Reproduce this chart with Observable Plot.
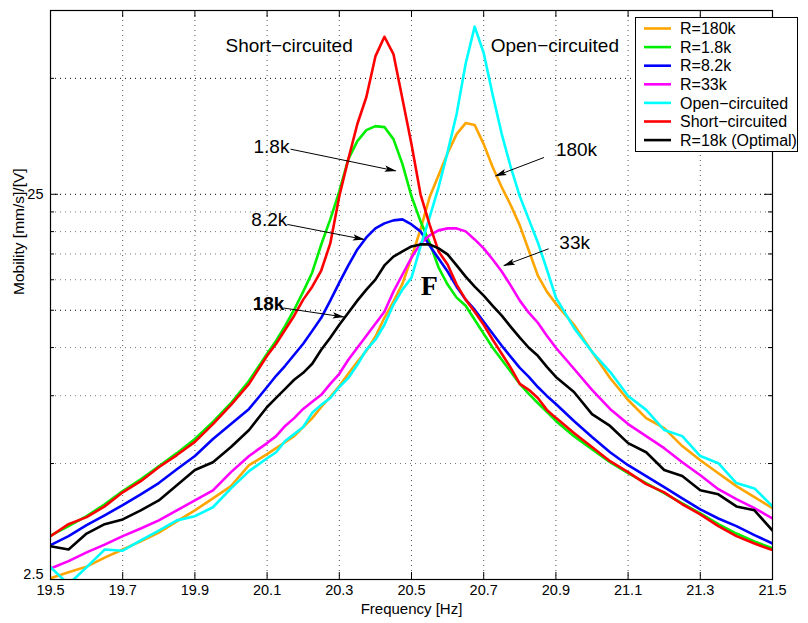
<!DOCTYPE html>
<html><head><meta charset="utf-8">
<script src="https://cdn.jsdelivr.net/npm/d3@7"></script>
<script src="https://cdn.jsdelivr.net/npm/@observablehq/plot@0.6"></script>
<style>
body{margin:0;background:#fff;}
#chart{position:relative;width:808px;height:623px;}
</style></head><body><div id="chart"></div>
<script>
const freq = [19.5,19.55,19.6,19.65,19.7,19.75,19.8,19.85,19.9,19.95,20.0,20.05,20.1,20.125,20.15,20.175,20.2,20.225,20.25,20.275,20.3,20.325,20.35,20.375,20.4,20.425,20.45,20.475,20.5,20.525,20.55,20.575,20.6,20.625,20.65,20.675,20.7,20.725,20.75,20.775,20.8,20.825,20.85,20.875,20.9,20.95,21.0,21.05,21.1,21.15,21.2,21.25,21.3,21.35,21.4,21.45,21.5];

const r180k = [2.52,2.61,2.70,2.85,2.99,3.14,3.31,3.54,3.78,4.06,4.37,4.95,5.29,5.48,5.68,5.89,6.22,6.56,7.01,7.45,7.95,8.55,9.19,9.81,10.67,11.95,13.16,14.65,17.13,20.27,24.55,28.01,31.96,35.83,38.27,37.82,33.74,29.39,26.07,23.41,20.76,17.87,15.37,13.97,13.00,11.46,9.75,8.34,7.31,6.56,6.18,5.55,5.10,4.72,4.37,4.09,3.83];
const r1_8k = [3.25,3.44,3.65,3.92,4.24,4.55,4.92,5.32,5.79,6.41,7.18,8.20,9.64,10.42,11.39,12.54,13.97,15.67,18.52,21.52,25.45,30.84,34.36,36.70,37.58,37.36,34.77,29.93,24.70,21.27,18.75,16.14,14.57,13.48,12.84,11.81,10.86,9.99,9.30,8.65,8.05,7.58,7.18,6.81,6.45,5.89,5.45,5.04,4.72,4.45,4.19,3.94,3.71,3.48,3.29,3.14,3.01];
const r8_2k = [3.07,3.24,3.46,3.67,3.90,4.16,4.45,4.83,5.23,5.79,6.33,6.93,7.90,8.45,8.97,9.58,10.23,11.05,11.95,13.24,14.74,16.34,17.98,19.32,20.39,21.01,21.39,21.52,20.88,20.03,18.42,17.03,15.76,14.39,13.32,12.54,11.67,10.86,10.11,9.46,8.86,8.39,7.90,7.49,7.14,6.45,5.86,5.35,4.95,4.64,4.34,4.06,3.80,3.60,3.44,3.26,3.10];
const r33k = [2.67,2.79,2.94,3.08,3.24,3.39,3.56,3.78,4.01,4.26,4.75,5.23,5.65,5.89,6.26,6.56,6.93,7.23,7.54,8.05,8.55,9.30,9.99,10.73,11.53,12.39,13.97,15.48,17.13,18.64,19.55,20.15,20.39,20.39,20.03,19.09,18.09,16.93,15.76,14.48,13.24,12.32,11.60,10.73,9.99,8.81,7.77,6.93,6.33,5.89,5.48,5.04,4.66,4.29,4.04,3.83,3.60];
const openC = [2.69,2.43,2.69,2.99,2.97,3.16,3.35,3.56,3.65,3.85,4.31,4.78,5.16,5.35,5.72,5.96,6.22,6.77,7.10,7.40,7.90,8.34,9.02,9.87,10.48,11.46,12.93,14.14,15.19,18.30,21.78,26.07,32.16,40.39,54.54,68.1,58.19,45.27,35.83,29.39,24.70,21.52,18.75,15.95,13.48,11.25,9.75,8.65,7.49,6.89,6.11,5.89,5.23,5.01,4.45,4.31,3.87];
const shortC = [3.24,3.48,3.63,3.87,4.21,4.50,4.89,5.26,5.69,6.33,7.10,8.05,9.52,10.23,11.12,12.10,13.32,14.39,15.85,18.64,24.70,30.84,38.05,44.73,57.0,64.1,57.8,44.2,33.74,25.0,20.88,17.77,16.43,14.57,13.32,12.39,11.46,10.48,9.64,8.86,8.05,7.77,7.40,6.89,6.57,6.00,5.52,5.07,4.75,4.42,4.21,3.92,3.69,3.44,3.24,3.10,2.98];
const r18k = [3.05,2.99,3.29,3.48,3.58,3.78,4.01,4.39,4.81,5.04,5.52,6.11,7.01,7.40,7.81,8.25,8.60,9.08,9.87,10.61,11.46,12.32,13.24,14.14,15.01,16.34,17.23,17.77,18.30,18.53,18.53,18.09,17.45,16.34,15.28,14.39,13.64,12.84,12.10,11.32,10.61,9.99,9.52,8.91,8.39,7.67,6.72,6.26,5.65,5.35,4.81,4.64,4.26,4.16,3.87,3.78,3.35];

const seriesNames = ["R=180k","R=1.8k","R=8.2k","R=33k","Open\u2212circuited","Short\u2212circuited","R=18k (Optimal)"];
const seriesColors = ["#ffa500","#00ee00","#0000ff","#ff00ff","#00ffff","#ff0000","#000000"];
const seriesValues = [r180k, r1_8k, r8_2k, r33k, openC, shortC, r18k];

const xTicks = [19.5,19.7,19.9,20.1,20.3,20.5,20.7,20.9,21.1,21.3,21.5];
const yTickLabels = [2.5, 25];
const yGridMajor = [12.5, 25, 50];
const yGridMinor = [5, 7.5, 10, 15, 17.5, 20, 22.5];
const yTicksMinor = [5, 7.5, 10, 12.5, 15, 17.5, 20, 22.5, 50];

const annotText = ["Short\u2212circuited","Open\u2212circuited","1.8k","8.2k","180k","33k"];
const annotX = [20.161, 20.897, 20.112, 20.106, 20.957, 20.952];
const annotY = [60.7, 60.7, 33.1, 21.5, 32.55, 18.75];
const boldText = ["18k"];
const boldX = [20.104];
const boldY = [13.0];
const fText = ["F"];
const fX = [20.549];
const fY = [14.46];
const arrowX1 = [20.165, 20.156, 20.145, 20.867, 20.880];
const arrowY1 = [32.74, 20.88, 12.67, 31.15, 18.05];
const arrowX2 = [20.456, 20.368, 20.312, 20.733, 20.756];
const arrowY2 = [28.75, 19.09, 12.01, 27.90, 16.33];

const rows = seriesNames.flatMap((name, i) => freq.map((f, j) => ({f, v: seriesValues[i][j], s: name})));

const W = 808, H = 623, mL = 50, mR = 36, mT = 10, mB = 44;
const innerW = W - mL - mR, innerH = H - mT - mB;
const idx = a => a.map((_, i) => i);

const chart = Plot.plot({
  width: W, height: H, marginLeft: mL, marginRight: mR, marginTop: mT, marginBottom: mB,
  style: {fontFamily: "'Liberation Sans', Arial, Helvetica, sans-serif", fontSize: "15px", background: "white", color: "black", overflow: "visible"},
  x: {domain: [19.5, 21.5]},
  y: {type: "log", domain: [2.5, 75]},
  color: {domain: seriesNames, range: seriesColors},
  marks: [
    Plot.ruleY(yGridMinor, {stroke: "#777", strokeDasharray: "1,4"}),
    Plot.ruleY(yGridMajor, {stroke: "#000", strokeDasharray: "1,4"}),
    Plot.ruleX(xTicks.slice(1, -1), {stroke: "#555", strokeDasharray: "1,4"}),
    Plot.tickX(xTicks, {insetTop: innerH - 7, stroke: "black"}),
    Plot.tickX(xTicks, {insetBottom: innerH - 7, stroke: "black"}),
    Plot.tickY(yTickLabels, {insetRight: innerW - 8, stroke: "black"}),
    Plot.tickY(yTickLabels, {insetLeft: innerW - 8, stroke: "black"}),
    Plot.tickY(yTicksMinor, {insetRight: innerW - 4, stroke: "black"}),
    Plot.tickY(yTicksMinor, {insetLeft: innerW - 4, stroke: "black"}),
    Plot.line(rows, {x: "f", y: "v", z: "s", stroke: "s", strokeWidth: 2.6, strokeLinejoin: "round", clip: true}),
    Plot.frame({stroke: "black", strokeWidth: 1.2}),
    Plot.axisX({ticks: xTicks, tickSize: 0, tickPadding: 5, tickFormat: d => d.toFixed(1), fontSize: 14.5, label: null}),
    Plot.axisY({ticks: yTickLabels.slice(1), tickSize: 0, tickPadding: 7, tickFormat: d => String(d), fontSize: 14.5, label: null}),
    Plot.axisY({ticks: yTickLabels.slice(0, 1), tickSize: 0, tickPadding: 7, dy: -5, tickFormat: d => String(d), fontSize: 14.5, label: null}),
    Plot.text(["Frequency [Hz]"], {frameAnchor: "bottom", dy: 34, fontSize: 15}),
    Plot.text(["Mobility [mm/s]/[V]"], {frameAnchor: "left", rotate: -90, dx: -31, fontSize: 15.5}),
    Plot.text(annotText, {x: (d, i) => annotX[i], y: (d, i) => annotY[i], text: d => d, fontSize: 19}),
    Plot.text(boldText, {x: (d, i) => boldX[i], y: (d, i) => boldY[i], text: d => d, fontSize: 19, fontWeight: "bold"}),
    Plot.text(fText, {x: (d, i) => fX[i], y: (d, i) => fY[i], text: d => d, fontSize: 28, fontWeight: "bold", fontFamily: "'Liberation Serif', 'Times New Roman', serif"}),
    Plot.link(idx(arrowX1), {x1: i => arrowX1[i], y1: i => arrowY1[i], x2: i => arrowX2[i], y2: i => arrowY2[i], stroke: "black", strokeWidth: 1})
  ]
});

document.getElementById("chart").appendChild(chart);

// arrowheads
const svg = d3.select(chart);
const defs = svg.append("defs");
defs.append("marker").attr("id", "ah").attr("markerUnits", "userSpaceOnUse")
  .attr("viewBox", "0 -4 12 8").attr("refX", 11).attr("refY", 0)
  .attr("markerWidth", 12).attr("markerHeight", 8).attr("orient", "auto")
  .append("path").attr("d", "M0,-3.2L12,0L0,3.2L2.5,0Z").attr("fill", "black");
svg.selectAll('g[aria-label="link"] path, g[aria-label="link"] line').attr("marker-end", "url(#ah)");

// legend
const lg = svg.append("g").attr("text-anchor", "start");
lg.append("rect").attr("x", 635.5).attr("y", 17.5).attr("width", 162).attr("height", 134)
  .attr("fill", "white").attr("stroke", "black").attr("stroke-width", 1);
seriesNames.forEach((name, i) => {
  const y = 28.5 + i * 18.6;
  lg.append("line").attr("x1", 644).attr("x2", 671).attr("y1", y).attr("y2", y)
    .attr("stroke", seriesColors[i]).attr("stroke-width", 2.6);
  lg.append("text").attr("x", 680).attr("y", y).attr("dy", "0.35em").attr("text-anchor", "start")
    .attr("font-size", 16).attr("fill", "black").text(name);
});
</script>
</body></html>
